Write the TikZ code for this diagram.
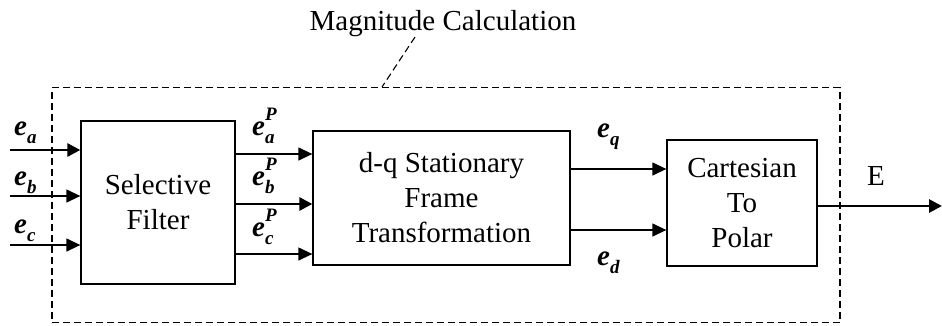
\documentclass[tikz,border=0pt]{standalone}
\usepackage{fontspec}
\setmainfont{Liberation Serif}
\usetikzlibrary{arrows.meta}
\newcommand{\sig}[1]{\textbf{\textit{e}}\raisebox{-0.3em}{\fontsize{19}{19}\selectfont\textbf{\textit{#1}}}}
\newcommand{\sigp}[1]{\textbf{\textit{e}}\rlap{\raisebox{0.5em}{\fontsize{19}{19}\selectfont\textbf{\textit{P}}}}\raisebox{-0.3em}{\fontsize{19}{19}\selectfont\textbf{\textit{#1}}}}
\tikzset{
  blk/.style={draw, line width=1.3pt, inner sep=0pt, align=center, font=\fontsize{29}{35}\selectfont},
  arr/.style={line width=1.3pt, -{Triangle[length=14pt,width=13pt]}},
  tarr/.style={line width=2.8pt, -{Triangle[length=13pt,width=13pt]}},
  lbl/.style={anchor=base west, inner sep=0pt, font=\fontsize{29}{35}\selectfont},
  dsh/.style={line width=1.1pt, dash pattern=on 7pt off 4pt}
}
\begin{document}
\begin{tikzpicture}[x=1pt,y=-1pt]
\useasboundingbox (0,0) rectangle (942,325);
% outer dashed box
\node[draw, dsh, minimum width=788pt, minimum height=235pt, inner sep=0pt] (outer) at (446,205) {};
\node[anchor=base, inner sep=0pt, font=\fontsize{29}{35}\selectfont] (title) at (443,30) {Magnitude Calculation};
\coordinate (lt) at (415,37);
\coordinate (lb) at (382,87);
\draw[dsh] (lt) -- (lb);
% blocks
\node[blk, minimum width=154pt, minimum height=163pt] (sf) at (158,202.5) {Selective\\Filter};
\node[blk, minimum width=257pt, minimum height=134pt] (dq) at (441.5,198) {d-q Stationary\\Frame\\Transformation};
\node[blk, minimum width=150pt, minimum height=126pt] (cp) at (742,203) {Cartesian\\To\\Polar};
% inputs
\coordinate (ia) at (10,150);
\coordinate (ib) at (10,196);
\coordinate (ic) at (10,245);
\draw[tarr] (ia) -- (sf.west |- ia);
\draw[arr] (ib) -- (sf.west |- ib);
\draw[arr] (ic) -- (sf.west |- ic);
\node[lbl] (la) at (14,135) {\sig{a}};
\node[lbl] (lb2) at (14,185) {\sig{b}};
\node[lbl] (lc) at (14,233) {\sig{c}};
% filter outputs
\coordinate (oa) at (235,154);
\coordinate (ob) at (235,204);
\coordinate (oc) at (235,254);
\draw[arr] (oa) -- (dq.west |- oa);
\draw[tarr] (ob) -- (dq.west |- ob);
\draw[arr] (oc) -- (dq.west |- oc);
\node[lbl] (lpa) at (252,135) {\sigp{a}};
\node[lbl] (lpb) at (252,185) {\sigp{b}};
\node[lbl] (lpc) at (252,236) {\sigp{c}};
% dq outputs
\coordinate (q) at (570,169);
\coordinate (d) at (570,230);
\draw[arr] (q) -- (cp.west |- q);
\draw[arr] (d) -- (cp.west |- d);
\node[lbl] (lq) at (597,137) {\sig{q}};
\node[lbl] (ld) at (597,265) {\sig{d}};
% output
\coordinate (eo) at (942,206);
\draw[tarr] (cp.east |- eo) -- (eo);
\node[lbl] (le) at (867,185) {E};
\end{tikzpicture}
\end{document}
